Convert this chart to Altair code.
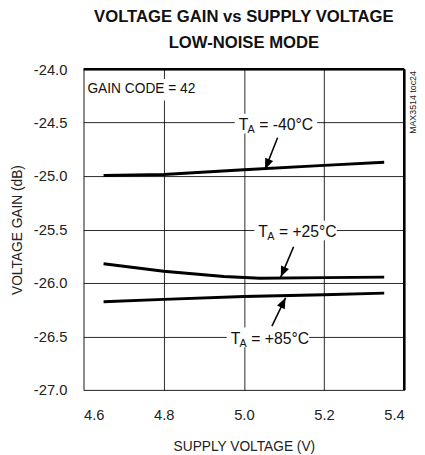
import altair as alt
import pandas as pd

# ---- data ----
supply_m40 = [4.65, 4.80, 5.00, 5.20, 5.35]
gain_m40 = [-24.995, -24.985, -24.94, -24.90, -24.87]
supply_25 = [4.65, 4.80, 4.95, 5.04, 5.20, 5.35]
gain_25 = [-25.82, -25.89, -25.94, -25.955, -25.95, -25.945]
supply_85 = [4.65, 4.80, 5.00, 5.20, 5.35]
gain_85 = [-26.175, -26.153, -26.126, -26.11, -26.095]

x_ticks = [4.6, 4.8, 5.0, 5.2, 5.4]
y_ticks = [-27.0, -26.5, -26.0, -25.5, -25.0, -24.5, -24.0]

label_temps = ["= -40°C", "= +25°C", "= +85°C"]
label_x = [4.987, 5.036, 4.967]
label_y = [-24.5, -25.5, -26.5]

arrow_id = ["a", "a", "b", "b", "c", "c"]
arrow_x = [5.084, 5.053, 5.124, 5.092, 5.070, 5.104]
arrow_y = [-24.642, -24.936, -25.661, -25.945, -26.404, -26.138]
head_x = [5.053, 5.092, 5.104]
head_y = [-24.936, -25.945, -26.138]
head_angle = [202, 203, 26]

FONT = "Liberation Sans, Arial, sans-serif"

rows = []
for name, xs_, ys_ in [("-40", supply_m40, gain_m40), ("25", supply_25, gain_25), ("85", supply_85, gain_85)]:
    for a, b in zip(xs_, ys_):
        rows.append({"series": name, "v": a, "g": b})
curves = pd.DataFrame(rows)

labels = pd.DataFrame({"lx": label_x, "ly": label_y, "txt": label_temps})
arrows = pd.DataFrame({"id": arrow_id, "ax": arrow_x, "ay": arrow_y})
heads = pd.DataFrame({"hx": head_x, "hy": head_y, "ang": head_angle})
one = pd.DataFrame({"k": [0]})

xs = alt.Scale(domain=[4.6, 5.4], nice=False, zero=False)
ys = alt.Scale(domain=[-27.0, -24.0], nice=False, zero=False)

LBL = "(datum.value < 0 ? '-' : '') + format(abs(datum.value), '.1f')"

xaxis = alt.Axis(values=x_ticks, labelExpr=LBL, title="SUPPLY VOLTAGE (V)", grid=True,
                 gridColor="#000", gridOpacity=0.85, gridWidth=1, ticks=False, domain=False,
                 labelFont=FONT, labelFontSize=15, labelColor="#222", labelPadding=18,
                 titleFont=FONT, titleFontSize=14, titleFontWeight="normal", titleColor="#222",
                 titlePadding=18)
yaxis = alt.Axis(values=y_ticks, labelExpr=LBL, title="VOLTAGE GAIN (dB)", grid=True,
                 gridColor="#000", gridOpacity=0.85, gridWidth=1, ticks=False, domain=False,
                 labelFont=FONT, labelFontSize=15, labelColor="#222", labelPadding=17,
                 titleFont=FONT, titleFontSize=14, titleFontWeight="normal", titleColor="#222",
                 titlePadding=9)

base_axes = alt.Chart(curves).mark_line(opacity=0).encode(
    x=alt.X("v:Q", scale=xs, axis=xaxis),
    y=alt.Y("g:Q", scale=ys, axis=yaxis),
    detail="series:N",
)

lines = alt.Chart(curves).mark_line(color="black", strokeWidth=3).encode(
    x=alt.X("v:Q", scale=xs), y=alt.Y("g:Q", scale=ys), detail="series:N"
)

bg = alt.Chart(labels).mark_rect(fill="white", opacity=1, xOffset=-4, x2Offset=80,
                                 yOffset=-9, y2Offset=11).encode(
    x=alt.X("lx:Q", scale=xs), x2=alt.X2("lx"), y=alt.Y("ly:Q", scale=ys), y2=alt.Y2("ly")
)

t_main = alt.Chart(labels).mark_text(font=FONT, fontSize=16, align="left", baseline="middle", dy=3, color="#111").encode(
    x=alt.X("lx:Q", scale=xs), y=alt.Y("ly:Q", scale=ys), text=alt.value("T")
)
t_sub = alt.Chart(labels).mark_text(font=FONT, fontSize=11, align="left", baseline="middle", dx=9, dy=8, color="#111").encode(
    x=alt.X("lx:Q", scale=xs), y=alt.Y("ly:Q", scale=ys), text=alt.value("A")
)
t_rest = alt.Chart(labels).mark_text(font=FONT, fontSize=16, align="left", baseline="middle", dx=21, dy=3, color="#111").encode(
    x=alt.X("lx:Q", scale=xs), y=alt.Y("ly:Q", scale=ys), text="txt:N"
)

arrow_lines = alt.Chart(arrows).mark_line(color="black", strokeWidth=1.6).encode(
    x=alt.X("ax:Q", scale=xs), y=alt.Y("ay:Q", scale=ys), detail="id:N"
)
arrow_heads = alt.Chart(heads).mark_point(shape="M0,0 L-0.4,1 L0.4,1 Z", filled=True, color="black",
                                          size=480, opacity=1).encode(
    x=alt.X("hx:Q", scale=xs), y=alt.Y("hy:Q", scale=ys), angle=alt.Angle("ang:Q", scale=None)
)

gain_bg = alt.Chart(one).mark_rect(fill="white", opacity=1).encode(
    x=alt.value(2), x2=alt.value(114), y=alt.value(10), y2=alt.value(32)
)
gain_txt = alt.Chart(one).mark_text(font=FONT, fontSize=14, align="left", baseline="middle", color="#111").encode(
    x=alt.value(4), y=alt.value(20), text=alt.value("GAIN CODE = 42")
)

border_top = alt.Chart(one).mark_rule(color="black", strokeWidth=2.5).encode(
    x=alt.value(0), x2=alt.value(327), y=alt.value(0)
)
border_right = alt.Chart(one).mark_rule(color="black", strokeWidth=2.5).encode(
    x=alt.value(327), y=alt.value(0), y2=alt.value(327)
)

code_txt = alt.Chart(one).mark_text(font=FONT, fontSize=9, angle=270, align="right", baseline="middle", color="#222").encode(
    x=alt.value(336), y=alt.value(2), text=alt.value("MAX3514 toc24")
)

chart = alt.layer(
    base_axes, bg, gain_bg, lines, arrow_lines, arrow_heads, t_main, t_sub, t_rest, gain_txt,
    border_top, border_right, code_txt
).properties(
    width=327, height=327,
    title=alt.TitleParams(["VOLTAGE GAIN vs  SUPPLY VOLTAGE", "LOW-NOISE MODE"], font=FONT, fontSize=17,
                          fontWeight="bold", color="#111", anchor="middle", lineHeight=26, offset=11),
    autosize=alt.AutoSizeParams(type="none"),
    padding={"left": 77, "top": 58, "right": 13, "bottom": 62},
).configure_view(stroke="black", strokeWidth=1.2).configure(background="white")

chart.save("out.html", embed_options={"renderer": "svg", "actions": False})
